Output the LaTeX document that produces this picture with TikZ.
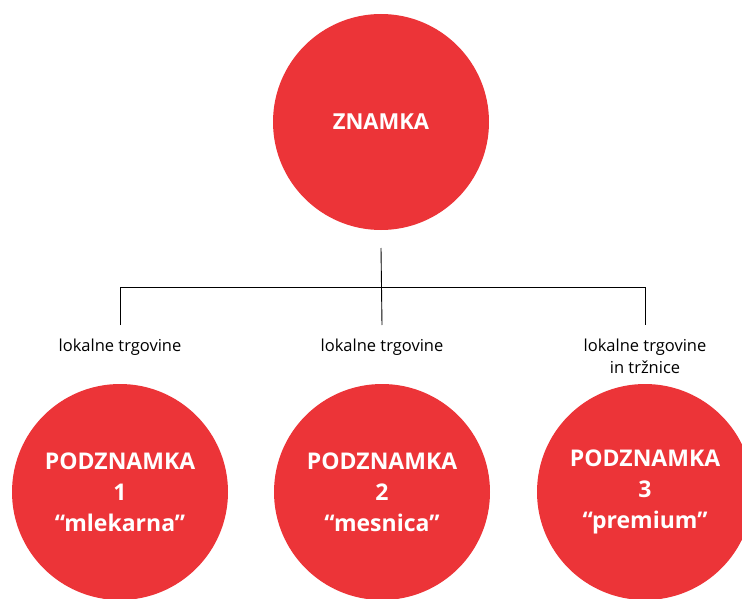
\documentclass[tikz,border=0pt]{standalone}
\usepackage{fontspec}
\setmainfont{Open Sans}
\usepackage{xcolor}
\definecolor{znamred}{RGB}{236,52,56}

\begin{document}
\begin{tikzpicture}[x=1pt,y=-1pt,
    brand/.style={circle,fill=znamred,minimum size=216pt,inner sep=0pt,
        text=white,align=center,font=\bfseries\fontsize{23}{31}\selectfont},
    channel/.style={anchor=north,align=center,font=\fontsize{16.5}{22}\selectfont},
    link/.style={draw=black,line width=0.9pt}]
\useasboundingbox (0,0) rectangle (742,599);
\clip (0,0) rectangle (742,599);

% glavna znamka
\node[brand,font=\bfseries\fontsize{22}{25}\selectfont] (znamka) at (381,122) {ZNAMKA};

% prodajne poti
\node[channel] (pot1) at (120,335) {lokalne trgovine};
\node[channel] (pot2) at (382,335) {lokalne trgovine};
\node[channel] (pot3) at (645,335) {lokalne trgovine\\in tržnice};
\coordinate (bus) at (382,287);

% podznamke
\node[brand] (pod1) at (120,492) {PODZNAMKA\\1\\“mlekarna”};
\node[brand] (pod2) at (382,492) {PODZNAMKA\\2\\“mesnica”};
\node[brand] (pod3) at (645,492) {PODZNAMKA\\3\\“premium”};

% povezave
\draw[link] (znamka.south |- 0,248) -- (pot2.north |- 0,325);
\draw[link] (pot1.north |- 0,325) -- (pot1.north |- bus) -- (pot3.north |- bus) -- (pot3.north |- 0,325);
\end{tikzpicture}
\end{document}
